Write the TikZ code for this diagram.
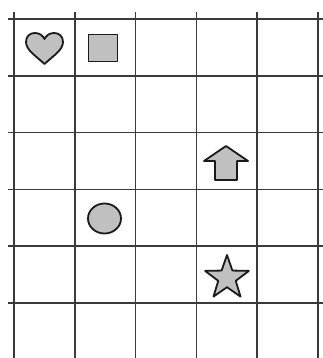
\documentclass[tikz,border=0pt]{standalone}
\usetikzlibrary{shapes.geometric}
\definecolor{gridc}{HTML}{3A3A3A}
\definecolor{shapefill}{HTML}{C0C0C0}
\definecolor{shapeline}{HTML}{1A1A1A}
\begin{document}
\begin{tikzpicture}[x=1pt,y=-1pt,
  gridline/.style={draw=gridc,line width=1.6pt},
  figshape/.style={draw=shapeline,fill=shapefill,line width=1.8pt,line join=round}]
\useasboundingbox (0,0) rectangle (323,358);
\fill[white] (0,0) rectangle (323,358);
% grid
\foreach \i in {0,...,5}{
  \draw[gridline] ({14+60.8*\i},12) -- ({14+60.8*\i},358);
  \draw[gridline] (8,{19+56.8*\i}) -- (323,{19+56.8*\i});
}
% heart
\draw[figshape] (44.5,64) .. controls (36,56) and (26,50) .. (26,42)
  .. controls (26,36) and (30,33) .. (35,33)
  .. controls (40,33) and (43,36) .. (44.5,39)
  .. controls (46,36) and (49,33) .. (54,33)
  .. controls (59,33) and (63,36) .. (63,42)
  .. controls (63,50) and (53,56) .. (44.5,64) -- cycle;
% square
\node[figshape,rectangle,minimum width=29pt,minimum height=27pt,inner sep=0pt] (square) at (103,48) {};
% circle
\node[figshape,ellipse,minimum width=33pt,minimum height=30pt,inner sep=0pt] (circ) at (104.5,218.5) {};
% arrow
\draw[figshape] (226,146) -- (248,161) -- (237,161) -- (237,180) -- (215,180) -- (215,161) -- (204,161) -- cycle;
% star
\node[figshape,star,star points=5,star point ratio=2.5,minimum size=46pt,inner sep=0pt] (star) at (227,278) {};
\end{tikzpicture}
\end{document}
